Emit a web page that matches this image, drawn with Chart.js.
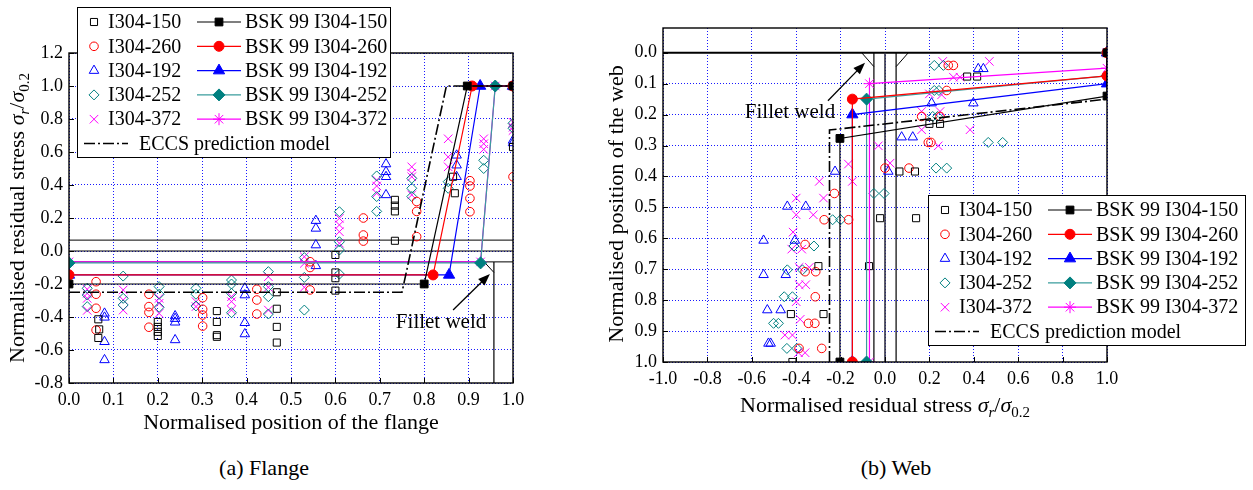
<!DOCTYPE html>
<html>
<head>
<meta charset="utf-8">
<script src="https://cdn.jsdelivr.net/npm/chart.js@4.4.1/dist/chart.umd.min.js"></script>
<style>
  body { margin: 0; background: #fff; width: 1253px; height: 490px; position: relative; overflow: hidden; }
  .panel { position: absolute; top: 0; height: 440px; }
  .cap { position: absolute; top: 455px; font: 22px "Liberation Serif", "Times New Roman", serif; line-height: 26px; transform: translateX(-50%); white-space: nowrap; }
</style>
</head>
<body>
<div class="panel" style="left:0;width:600px"><canvas id="flangeChart"></canvas></div>
<div class="panel" style="left:600px;width:653px"><canvas id="webChart"></canvas></div>
<div class="cap" style="left:264px">(a) Flange</div>
<div class="cap" style="left:896px">(b) Web</div>
<script>
// Series names
const seriesNames = ['I304-150', 'I304-260', 'I304-192', 'I304-252', 'I304-372'];
const bskNames = seriesNames.map(n => 'BSK 99 ' + n);
const eccsName = 'ECCS prediction model';

// ---- (a) Flange: [position, stress] ----
const flangeTicksX = [0.0, 0.1, 0.2, 0.3, 0.4, 0.5, 0.6, 0.7, 0.8, 0.9, 1.0];
const flangeTicksY = [-0.8, -0.6, -0.4, -0.2, 0.0, 0.2, 0.4, 0.6, 0.8, 1.0, 1.2];

const flange150 = [[0.066,-0.414],[0.068,-0.475],[0.066,-0.527],[0.2,-0.43],[0.2,-0.46],[0.2,-0.49],[0.2,-0.515],
  [0.333,-0.364],[0.333,-0.43],[0.333,-0.51],[0.333,-0.52],[0.468,-0.25],[0.468,-0.35],[0.468,-0.46],[0.468,-0.555],
  [0.6,-0.024],[0.6,-0.13],[0.6,-0.165],[0.6,-0.24],[0.734,0.062],[0.734,0.24],[0.734,0.275],[0.734,0.31],
  [0.869,0.35],[0.865,0.45],[1.0,0.63]];
const flange260 = [[0.061,-0.186],[0.061,-0.262],[0.061,-0.347],[0.061,-0.479],[0.18,-0.262],[0.18,-0.337],[0.18,-0.372],[0.18,-0.462],
  [0.301,-0.283],[0.301,-0.353],[0.301,-0.388],[0.301,-0.455],[0.423,-0.232],[0.423,-0.297],[0.423,-0.382],
  [0.543,-0.065],[0.543,-0.1],[0.543,-0.236],[0.663,0.2],[0.663,0.097],[0.663,0.06],[0.783,0.3],[0.783,0.24],[0.783,0.087],
  [0.903,0.426],[0.903,0.394],[0.903,0.319],[0.903,0.238],[1.0,0.45]];
const flange192 = [[0.08,-0.378],[0.08,-0.402],[0.08,-0.55],[0.08,-0.66],[0.239,-0.394],[0.239,-0.41],[0.239,-0.432],[0.239,-0.539],
  [0.396,-0.226],[0.396,-0.267],[0.396,-0.435],[0.396,-0.503],[0.556,0.184],[0.556,0.137],[0.556,0.036],[0.556,-0.09],
  [0.714,0.527],[0.714,0.48],[0.714,0.45],[0.714,0.34],[0.873,0.58],[0.873,0.52],[0.873,0.45],[1.0,0.67],[1.0,0.655]];
const flange252 = [[0.041,-0.226],[0.041,-0.267],[0.041,-0.337],[0.122,-0.152],[0.122,-0.287],[0.122,-0.327],
  [0.203,-0.216],[0.203,-0.262],[0.203,-0.341],[0.286,-0.226],[0.286,-0.262],[0.286,-0.333],
  [0.366,-0.176],[0.366,-0.2],[0.366,-0.257],[0.366,-0.374],[0.449,-0.125],[0.449,-0.216],[0.449,-0.277],[0.449,-0.382],
  [0.53,-0.04],[0.53,-0.16],[0.53,-0.358],[0.609,0.238],[0.609,0.056],[0.609,0.006],[0.609,-0.14],
  [0.693,0.455],[0.693,0.33],[0.693,0.24],[0.772,0.44],[0.772,0.38],[0.772,0.33],[0.854,0.42],[0.854,0.38],
  [0.934,0.55],[0.934,0.5],[1.0,0.774],[1.0,0.744]];
const flange372 = [[0.041,-0.232],[0.041,-0.257],[0.041,-0.287],[0.041,-0.36],[0.122,-0.236],[0.122,-0.297],[0.122,-0.358],
  [0.203,-0.287],[0.203,-0.317],[0.203,-0.378],[0.286,-0.307],[0.286,-0.337],[0.366,-0.277],[0.366,-0.307],[0.366,-0.358],
  [0.449,-0.156],[0.449,-0.22],[0.449,-0.358],[0.53,-0.035],[0.53,-0.075],[0.53,-0.22],
  [0.609,0.198],[0.609,0.158],[0.609,0.117],[0.609,0.047],[0.693,0.43],[0.693,0.394],[0.693,0.35],
  [0.772,0.51],[0.772,0.47],[0.772,0.45],[0.772,0.34],[0.854,0.68],[0.854,0.57],[0.854,0.51],
  [0.934,0.68],[0.934,0.65],[0.934,0.616],[1.0,0.78],[1.0,0.75],[1.0,0.73]];

const flangeBsk150 = [[0,-0.2],[0.8,-0.2],[0.897,1.0],[1.0,1.0]];
const flangeBsk260 = [[0,-0.145],[0.82,-0.145],[0.908,1.0],[1.0,1.0]];
const flangeBsk192 = [[0,-0.145],[0.856,-0.145],[0.926,1.0],[1.0,1.0]];
const flangeBsk252 = [[0,-0.072],[0.927,-0.072],[0.96,1.0],[1.0,1.0]];
const flangeBsk372 = [[0,-0.066],[0.927,-0.066],[0.96,1.0],[1.0,1.0]];
const flangeEccs = [[0,-0.25],[0.75,-0.25],[0.85,1.0],[1.0,1.0]];

// section sketch (flange plate, web and weld)
const flangeSketch = [[[0,0.066],[1,0.066]], [[0,0],[1,0]], [[0,-0.066],[1,-0.066]],
  [[0.957,-0.066],[0.957,-0.8]], [[0.935,-0.066],[0.957,-0.13]]];
const flangeWeldNote = {text: [0.838,-0.436], from: [0.865,-0.358], to: [0.948,-0.139]};

// ---- (b) Web: [stress, position] ----
const webTicksX = [-1.0, -0.8, -0.6, -0.4, -0.2, 0.0, 0.2, 0.4, 0.6, 0.8, 1.0];
const webTicksY = [0.0, 0.1, 0.2, 0.3, 0.4, 0.5, 0.6, 0.7, 0.8, 0.9, 1.0];

const web150 = [[0.37,0.077],[0.415,0.077],[0.2,0.23],[0.248,0.23],[0.065,0.384],[0.135,0.384],[-0.022,0.535],[0.14,0.535],
  [-0.3,0.69],[-0.072,0.69],[-0.424,0.845],[-0.277,0.845],[-0.417,1.0]];
const web260 = [[0.285,0.041],[0.308,0.041],[0.278,0.122],[0.165,0.206],[0.248,0.206],[0.195,0.29],[0.207,0.29],
  [0.0,0.373],[0.108,0.373],[-0.228,0.455],[-0.274,0.54],[-0.164,0.54],[-0.36,0.62],[-0.36,0.708],[-0.312,0.708],
  [-0.314,0.789],[-0.345,0.875],[-0.316,0.875],[-0.387,0.956],[-0.285,0.956]];
const web192 = [[0.42,0.052],[0.443,0.052],[0.21,0.163],[0.398,0.163],[0.075,0.273],[0.125,0.273],[-0.225,0.384],[0.015,0.384],
  [-0.44,0.497],[-0.357,0.497],[-0.547,0.607],[-0.406,0.607],[-0.547,0.718],[-0.447,0.718],[-0.53,0.832],[-0.47,0.832],
  [-0.525,0.94],[-0.515,0.94]];
const web252 = [[0.222,0.041],[0.263,0.041],[0.222,0.122],[0.243,0.122],[0.215,0.206],[0.237,0.206],[0.465,0.29],[0.53,0.29],
  [0.23,0.373],[0.278,0.373],[-0.05,0.455],[-0.004,0.455],[-0.236,0.54],[-0.2,0.54],[-0.32,0.625],[-0.41,0.625],
  [-0.44,0.702],[-0.372,0.702],[-0.454,0.789],[-0.417,0.789],[-0.502,0.875],[-0.48,0.875],[-0.442,0.956],[-0.397,0.956]];
const web372 = [[0.26,0.028],[0.47,0.028],[0.308,0.079],[0.338,0.079],[0.255,0.136],[0.2,0.133],[0.165,0.19],[0.248,0.19],
  [0.165,0.249],[0.383,0.249],[0.24,0.301],[-0.03,0.301],[0.023,0.357],[-0.165,0.36],[-0.147,0.416],[-0.296,0.416],
  [-0.4,0.47],[-0.277,0.47],[-0.4,0.524],[-0.323,0.524],[-0.414,0.58],[-0.42,0.635],[-0.375,0.635],[-0.387,0.694],
  [-0.341,0.694],[-0.387,0.75],[-0.357,0.75],[-0.4,0.805],[-0.382,0.862],[-0.451,0.913],[-0.417,0.913],[-0.39,0.97],[-0.36,0.97]];

const webBsk150 = [[-0.203,1.0],[-0.203,0.277],[1.0,0.14],[1.0,0.0]];
const webBsk260 = [[-0.147,1.0],[-0.147,0.15],[1.0,0.075],[1.0,0.0]];
const webBsk192 = [[-0.147,1.0],[-0.147,0.2],[1.0,0.1],[1.0,0.0]];
const webBsk252 = [[-0.083,1.0],[-0.083,0.15],[1.0,0.075],[1.0,0.0]];
const webBsk372 = [[-0.07,1.0],[-0.07,0.1],[1.0,0.05],[1.0,0.0]];
const webEccs = [[-0.25,1.0],[-0.25,0.25],[1.0,0.15]];

const webSketch = [[[-1,0],[1,0]], [[-0.05,0],[-0.05,1]], [[0.05,0],[0.05,1]], [[0,0],[0,1]],
  [[-0.105,0],[-0.05,0.045]], [[0.105,0],[0.05,0.045]]];
const webWeldNote = {text: [-0.428,0.194], from: [-0.257,0.155], to: [-0.09,0.032]};

// ---- styling ----
const FONT = '"Liberation Serif", "Times New Roman", serif';
const GRID = 'rgba(0, 0, 255, 0.9)';
const styles = [
  {color: '#000000', line: '#000000', test: {pointStyle: 'rect', radius: 5}, bsk: {pointStyle: 'rect', radius: 5.5}},
  {color: '#ff0000', line: '#ff0000', test: {pointStyle: 'circle', radius: 4.3}, bsk: {pointStyle: 'circle', radius: 5}},
  {color: '#0000ff', line: '#0000ff', test: {pointStyle: 'triangle', radius: 5.5}, bsk: {pointStyle: 'triangle', radius: 6.5}},
  {color: '#008080', line: '#3a9d9d', test: {pointStyle: 'rectRot', radius: 5}, bsk: {pointStyle: 'rectRot', radius: 6}},
  {color: '#ff00ff', line: '#ff00ff', test: {pointStyle: 'crossRot', radius: 6}, bsk: {pointStyle: 'star', radius: 6}}
];

function toPts(arr) { return arr.map(p => ({x: p[0], y: p[1]})); }

function buildDatasets(tests, bsks, eccs) {
  const ds = [];
  tests.forEach((d, i) => ds.push({
    label: seriesNames[i], data: toPts(d), showLine: false,
    pointStyle: styles[i].test.pointStyle, pointRadius: styles[i].test.radius,
    pointBorderColor: styles[i].color, pointBackgroundColor: 'rgba(0,0,0,0)', pointBorderWidth: 1, order: 3
  }));
  bsks.forEach((d, i) => ds.push({
    label: bskNames[i], data: toPts(d), showLine: true, borderColor: styles[i].line, borderWidth: 1.2,
    pointStyle: styles[i].bsk.pointStyle, pointRadius: styles[i].bsk.radius,
    pointBorderColor: styles[i].color, pointBackgroundColor: styles[i].color, pointBorderWidth: 1, order: 2
  }));
  ds.push({label: eccsName, data: toPts(eccs), showLine: true, borderColor: '#000', borderWidth: 1.6,
    borderDash: [11, 3, 2, 3], pointRadius: 0, order: 1});
  return ds;
}

function marker(ctx, st, x, y, color, filled) {
  ctx.save();
  ctx.fillStyle = filled ? color : 'rgba(0,0,0,0)';
  ctx.strokeStyle = color;
  ctx.lineWidth = 1;
  Chart.helpers.drawPoint(ctx, {pointStyle: st.pointStyle, radius: st.radius, rotation: 0, borderWidth: 1}, x, y);
  ctx.restore();
}

function drawLegend(ctx, box) {
  ctx.save();
  ctx.fillStyle = '#fff';
  ctx.fillRect(box.x, box.y, box.w, box.h);
  ctx.strokeStyle = '#000';
  ctx.lineWidth = 1;
  ctx.strokeRect(box.x + 0.5, box.y + 0.5, box.w, box.h);
  ctx.font = '20px ' + FONT;
  ctx.textBaseline = 'middle';
  const row0 = box.y + 15, dy = 24.3;
  seriesNames.forEach((name, i) => {
    const y = row0 + i * dy;
    const st = styles[i];
    marker(ctx, st.test, box.x + 17, y, st.color, false);
    ctx.fillStyle = '#000';
    ctx.fillText(name, box.x + 31, y + 1);
    ctx.strokeStyle = st.line;
    ctx.lineWidth = 1.2;
    ctx.beginPath(); ctx.moveTo(box.x + 120, y); ctx.lineTo(box.x + 164, y); ctx.stroke();
    marker(ctx, st.bsk, box.x + 142, y, st.color, true);
    ctx.fillStyle = '#000';
    ctx.fillText(bskNames[i], box.x + 168, y + 1);
  });
  const ye = row0 + 5 * dy;
  ctx.strokeStyle = '#000'; ctx.lineWidth = 1.6; ctx.setLineDash([11, 3, 2, 3]);
  ctx.beginPath(); ctx.moveTo(box.x + 7, ye); ctx.lineTo(box.x + 51, ye); ctx.stroke();
  ctx.setLineDash([]);
  ctx.fillStyle = '#000';
  ctx.fillText(eccsName, box.x + 62, ye + 1);
  ctx.restore();
}

function drawRich(ctx, parts, cx, cy, rotate, size) {
  ctx.save();
  ctx.translate(cx, cy);
  if (rotate) ctx.rotate(-Math.PI / 2);
  let total = 0;
  const items = parts.map(p => {
    const fs = p.sub ? size * 0.68 : size;
    const font = (p.italic ? 'italic ' : '') + fs + 'px ' + FONT;
    ctx.font = font;
    const w = ctx.measureText(p.t).width;
    total += w;
    return {p, font, w};
  });
  let x = -total / 2;
  ctx.fillStyle = '#000';
  ctx.textBaseline = 'alphabetic';
  ctx.textAlign = 'left';
  items.forEach(it => {
    ctx.font = it.font;
    ctx.fillText(it.p.t, x, size * 0.33 + (it.p.sub ? size * 0.22 : 0));
    x += it.w;
  });
  ctx.restore();
}

const stressTitle = [{t: 'Normalised residual stress '}, {t: 'σ', italic: true}, {t: 'r', italic: true, sub: true},
  {t: '/'}, {t: 'σ', italic: true}, {t: '0.2', sub: true}];

function drawSketch(chart, segs, widths) {
  const {ctx, scales: {x, y}} = chart;
  ctx.save();
  segs.forEach((s, i) => {
    ctx.lineWidth = widths[i] || 1;
    ctx.strokeStyle = widths[i] === 1.6 ? '#333344' : '#000';
    ctx.beginPath();
    ctx.moveTo(x.getPixelForValue(s[0][0]), y.getPixelForValue(s[0][1]));
    ctx.lineTo(x.getPixelForValue(s[1][0]), y.getPixelForValue(s[1][1]));
    ctx.stroke();
  });
  ctx.restore();
}

function drawNote(chart, note) {
  const {ctx, scales: {x, y}} = chart;
  const x1 = x.getPixelForValue(note.from[0]), y1 = y.getPixelForValue(note.from[1]);
  const x2 = x.getPixelForValue(note.to[0]), y2 = y.getPixelForValue(note.to[1]);
  ctx.save();
  ctx.strokeStyle = '#000'; ctx.fillStyle = '#000'; ctx.lineWidth = 1.3;
  const a = Math.atan2(y2 - y1, x2 - x1);
  ctx.beginPath(); ctx.moveTo(x1, y1); ctx.lineTo(x2 - 8 * Math.cos(a), y2 - 8 * Math.sin(a)); ctx.stroke();
  ctx.beginPath();
  ctx.moveTo(x2, y2);
  ctx.lineTo(x2 - 12 * Math.cos(a) + 4.5 * Math.sin(a), y2 - 12 * Math.sin(a) - 4.5 * Math.cos(a));
  ctx.lineTo(x2 - 12 * Math.cos(a) - 4.5 * Math.sin(a), y2 - 12 * Math.sin(a) + 4.5 * Math.cos(a));
  ctx.closePath(); ctx.fill();
  ctx.font = '21px ' + FONT; ctx.textAlign = 'center'; ctx.textBaseline = 'middle';
  ctx.fillText('Fillet weld', x.getPixelForValue(note.text[0]), y.getPixelForValue(note.text[1]));
  ctx.restore();
}

function drawFrame(chart, xTicks, yTicks) {
  const {ctx, chartArea: a, scales: {x, y}} = chart;
  ctx.save();
  ctx.strokeStyle = '#000'; ctx.lineWidth = 1.4;
  ctx.strokeRect(a.left, a.top, a.right - a.left, a.bottom - a.top);
  ctx.lineWidth = 1;
  ctx.beginPath();
  xTicks.forEach(v => { const px = Math.round(x.getPixelForValue(v)) + 0.5; ctx.moveTo(px, a.bottom); ctx.lineTo(px, a.bottom - 5); });
  yTicks.forEach(v => { const py = Math.round(y.getPixelForValue(v)) + 0.5; ctx.moveTo(a.left, py); ctx.lineTo(a.left + 5, py); });
  ctx.stroke();
  ctx.restore();
}

function axisOptions(ticks, extra, fit) {
  return Object.assign({
    type: 'linear',
    afterBuildTicks: s => { s.ticks = ticks.map(v => ({value: v})); },
    afterFit: fit,
    grid: {color: GRID, lineWidth: 1, drawTicks: false},
    border: {display: false, dash: [1, 2]},
    ticks: {color: '#000', font: {family: FONT, size: 18}, padding: 6, autoSkip: false, maxRotation: 0,
      callback: v => Number(v).toFixed(1)}
  }, extra);
}

const baseOptions = {
  responsive: true, maintainAspectRatio: false, animation: false, events: [],
  plugins: {legend: {display: false}, tooltip: {enabled: false}}
};

// ---- (a) Flange chart ----
new Chart(document.getElementById('flangeChart'), {
  type: 'scatter',
  data: {datasets: buildDatasets([flange150, flange260, flange192, flange252, flange372],
    [flangeBsk150, flangeBsk260, flangeBsk192, flangeBsk252, flangeBsk372], flangeEccs)},
  options: Object.assign({}, baseOptions, {
    layout: {padding: {top: 53, right: 87, left: 0, bottom: 0}},
    scales: {
      x: axisOptions(flangeTicksX, {min: 0, max: 1}, s => { s.height = 57; }),
      y: axisOptions(flangeTicksY, {min: -0.8, max: 1.2}, s => { s.width = 69; })
    }
  }),
  plugins: [{
    id: 'flangeExtras',
    beforeDatasetsDraw(chart) { drawSketch(chart, flangeSketch, [1, 1, 1, 1.2, 1]); },
    afterDraw(chart) {
      drawFrame(chart, flangeTicksX, flangeTicksY);
      drawNote(chart, flangeWeldNote);
      drawLegend(chart.ctx, {x: 77, y: 7, w: 313, h: 150});
      const a = chart.chartArea;
      drawRich(chart.ctx, [{t: 'Normalised position of the flange'}], (a.left + a.right) / 2, 422, false, 22);
      drawRich(chart.ctx, stressTitle, 17, (a.top + a.bottom) / 2, true, 22);
    }
  }]
});

// ---- (b) Web chart ----
new Chart(document.getElementById('webChart'), {
  type: 'scatter',
  data: {datasets: buildDatasets([web150, web260, web192, web252, web372],
    [webBsk150, webBsk260, webBsk192, webBsk252, webBsk372], webEccs)},
  options: Object.assign({}, baseOptions, {
    layout: {padding: {top: 28, right: 146, left: 0, bottom: 0}},
    scales: {
      x: axisOptions(webTicksX, {min: -1, max: 1}, s => { s.height = 78; }),
      y: axisOptions(webTicksY, {min: -0.08, max: 1.0, reverse: true}, s => { s.width = 63; })
    }
  }),
  plugins: [{
    id: 'webExtras',
    beforeDatasetsDraw(chart) { drawSketch(chart, webSketch, [2, 1.2, 1.2, 1.6, 1, 1]); },
    afterDraw(chart) {
      drawFrame(chart, webTicksX, webTicksY);
      drawNote(chart, webWeldNote);
      drawLegend(chart.ctx, {x: 328, y: 195, w: 317, h: 150});
      const a = chart.chartArea;
      drawRich(chart.ctx, stressTitle, (a.left + a.right) / 2, 405, false, 22);
      drawRich(chart.ctx, [{t: 'Normalised position of the web'}], 16, 204, true, 22);
    }
  }]
});
</script>
</body>
</html>
